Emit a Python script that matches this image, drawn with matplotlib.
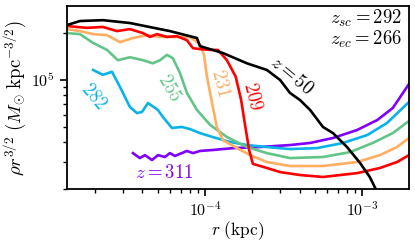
import matplotlib
matplotlib.use("Agg")
import matplotlib.pyplot as plt
from matplotlib.ticker import LogLocator, NullFormatter, FuncFormatter
import numpy as np

plt.rcParams['mathtext.fontset'] = 'cm'
plt.rcParams['font.family'] = ['DejaVu Serif']

# r in kpc, rho r^{3/2} in Msun kpc^-3/2
r_50 = [1.32e-5, 1.60e-5, 2.24e-5, 3.33e-5, 5.98e-5, 8.89e-5, 9.29e-5, 1.30e-4, 1.85e-4,
        2.48e-4, 3.01e-4, 3.48e-4, 4.03e-4, 4.67e-4, 5.64e-4, 6.53e-4, 8.02e-4, 9.71e-4,
        1.12e-3, 1.25e-3]
p_50 = [2.25e5, 2.39e5, 2.42e5, 2.32e5, 2.06e5, 1.86e5, 1.65e5, 1.49e5, 1.28e5,
        1.16e5, 1.00e5, 8.26e4, 7.44e4, 6.43e4, 5.00e4, 4.57e4, 3.72e4, 2.94e4,
        2.39e4, 1.91e4]

r_209 = [1.32e-5, 1.77e-5, 2.24e-5, 2.75e-5, 3.33e-5, 4.03e-5, 4.47e-5, 4.95e-5, 5.73e-5,
         6.63e-5, 7.68e-5, 8.39e-5, 9.29e-5, 1.08e-4, 1.21e-4, 1.38e-4, 1.57e-4, 1.70e-4,
         1.80e-4, 1.91e-4, 2.02e-4, 2.48e-4, 3.01e-4, 4.03e-4, 5.64e-4, 9.29e-4, 1.30e-3,
         1.67e-3, 1.99e-3]
p_209 = [2.22e5, 2.16e5, 2.19e5, 2.06e5, 2.12e5, 2.00e5, 1.89e5, 1.97e5, 1.89e5,
         1.91e5, 1.80e5, 1.60e5, 1.58e5, 1.56e5, 1.56e5, 1.34e5, 1.05e5, 7.44e4,
         5.15e4, 3.56e4, 2.90e4, 2.73e4, 2.57e4, 2.46e4, 2.39e4, 2.53e4, 2.73e4,
         2.98e4, 3.30e4]

r_231 = [1.32e-5, 1.60e-5, 1.94e-5, 2.38e-5, 2.88e-5, 3.48e-5, 4.27e-5, 5.17e-5, 6.25e-5,
         8.02e-5, 9.29e-5, 9.86e-5, 1.03e-4, 1.11e-4, 1.19e-4, 1.30e-4, 1.60e-4, 1.94e-4,
         2.48e-4, 3.48e-4, 5.64e-4, 9.29e-4, 1.30e-3, 1.67e-3, 1.99e-3]
p_231 = [2.12e5, 2.06e5, 1.97e5, 1.94e5, 1.75e5, 1.86e5, 1.94e5, 1.89e5, 1.89e5,
         1.89e5, 1.70e5, 1.45e5, 1.05e5, 7.12e4, 5.00e4, 4.12e4, 3.66e4, 3.30e4,
         2.98e4, 2.81e4, 2.81e4, 2.98e4, 3.30e4, 3.72e4, 4.25e4]

r_255 = [1.32e-5, 1.60e-5, 1.94e-5, 2.38e-5, 2.79e-5, 3.33e-5, 4.03e-5, 4.66e-5, 5.17e-5,
         5.73e-5, 6.25e-5, 6.93e-5, 7.68e-5, 8.89e-5, 1.08e-4, 1.38e-4, 1.85e-4, 2.48e-4,
         3.48e-4, 5.64e-4, 8.39e-4, 1.17e-3, 1.57e-3, 1.99e-3]
p_255 = [2.00e5, 1.97e5, 1.73e5, 1.56e5, 1.34e5, 1.40e5, 1.34e5, 1.28e5, 1.34e5,
         1.45e5, 1.38e5, 1.11e5, 8.26e4, 6.43e4, 5.15e4, 4.31e4, 3.72e4, 3.40e4,
         3.16e4, 3.21e4, 3.45e4, 3.95e4, 4.57e4, 5.46e4]

r_282 = [1.94e-5, 2.24e-5, 2.56e-5, 2.88e-5, 3.33e-5, 3.69e-5, 3.97e-5, 4.34e-5, 5.02e-5,
         5.40e-5, 6.16e-5, 7.14e-5, 8.02e-5, 9.29e-5, 1.12e-4, 1.44e-4, 1.85e-4, 2.48e-4,
         3.48e-4, 5.17e-4, 7.57e-4, 1.08e-3, 1.44e-3, 1.99e-3]
p_282 = [1.16e5, 1.08e5, 1.13e5, 9.02e4, 6.71e4, 6.14e4, 6.24e4, 7.12e4, 6.43e4,
         5.79e4, 4.93e4, 5.00e4, 4.85e4, 4.57e4, 4.31e4, 4.01e4, 3.83e4, 3.72e4,
         3.61e4, 3.66e4, 3.95e4, 4.44e4, 5.30e4, 7.23e4]

r_311 = [3.48e-5, 3.85e-5, 4.15e-5, 4.60e-5, 5.02e-5, 5.56e-5, 5.98e-5, 6.44e-5, 7.68e-5,
         8.39e-5, 9.29e-5, 1.12e-4, 1.51e-4, 2.24e-4, 3.48e-4, 4.67e-4, 6.53e-4, 9.29e-4,
         1.25e-3, 1.57e-3, 1.99e-3]
p_311 = [3.40e4, 3.16e4, 3.30e4, 3.07e4, 3.30e4, 3.21e4, 3.40e4, 3.26e4, 3.51e4,
         3.40e4, 3.51e4, 3.56e4, 3.66e4, 3.72e4, 3.83e4, 3.95e4, 4.25e4, 4.78e4,
         5.54e4, 6.62e4, 9.43e4]

c_50 = 'black'
c_209 = '#ff0000'
c_231 = '#ffae62'
c_255 = '#63c488'
c_282 = '#0ab2ea'
c_311 = '#7f00ff'

fig = plt.figure(figsize=(4.15, 2.43), dpi=100)
ax = fig.add_axes([0.161, 0.222, 0.8245, 0.753])

lw = 1.9
ax.plot(r_311, p_311, color=c_311, lw=lw)
ax.plot(r_282, p_282, color=c_282, lw=lw)
ax.plot(r_255, p_255, color=c_255, lw=lw)
ax.plot(r_231, p_231, color=c_231, lw=lw)
ax.plot(r_209, p_209, color=c_209, lw=lw)
ax.plot(r_50, p_50, color=c_50, lw=lw)

ax.set_xscale('log')
ax.set_yscale('log')
ax.set_xlim(1.32e-5, 1.99e-3)
ax.set_ylim(2.0e4, 2.98e5)

fmt = FuncFormatter(lambda v, p: r'$10^{%d}$' % int(round(np.log10(v))))
ax.xaxis.set_major_formatter(fmt)
ax.yaxis.set_major_formatter(fmt)
ax.xaxis.set_minor_formatter(NullFormatter())
ax.yaxis.set_minor_formatter(NullFormatter())
ax.xaxis.set_minor_locator(LogLocator(base=10, subs=np.arange(2, 10), numticks=20))
ax.yaxis.set_minor_locator(LogLocator(base=10, subs=np.arange(2, 10), numticks=20))
ax.tick_params(which='major', direction='out', length=5, width=1.2, labelsize=11.5, top=False, right=False)
ax.tick_params(which='minor', direction='out', length=3, width=1.0, top=False, right=False)
for s in ax.spines.values():
    s.set_linewidth(1.3)

ax.set_xlabel(r'$r\ \mathrm{(kpc)}$', fontsize=12.5, labelpad=0)
ax.set_ylabel(r'$\rho r^{3/2}\ (M_{\odot}\ \mathrm{kpc}^{-3/2})$', fontsize=13.5, labelpad=2)

tk = dict(transform=ax.transData, ha='center', va='center', fontsize=13.5)
ax.text(3.58e-4, 1.06e5, r'$z=50$', color=c_50, rotation=-40, **tk)
ax.text(1.99e-4, 7.9e4, r'$209$', color=c_209, rotation=-76, **tk)
ax.text(1.26e-4, 9.6e4, r'$231$', color=c_231, rotation=-76, **tk)
ax.text(5.9e-5, 8.9e4, r'$255$', color=c_255, rotation=-60, **tk)
ax.text(1.95e-5, 7.8e4, r'$282$', color=c_282, rotation=-50, **tk)
ax.text(5.49e-5, 2.54e4, r'$z=311$', color=c_311, rotation=0, **tk)

ax.text(0.980, 0.905, r'$z_{sc}=292$', transform=ax.transAxes, ha='right', va='baseline', fontsize=13.5)
ax.text(0.980, 0.790, r'$z_{ec}=266$', transform=ax.transAxes, ha='right', va='baseline', fontsize=13.5)

fig.savefig('out.png', dpi=100)
